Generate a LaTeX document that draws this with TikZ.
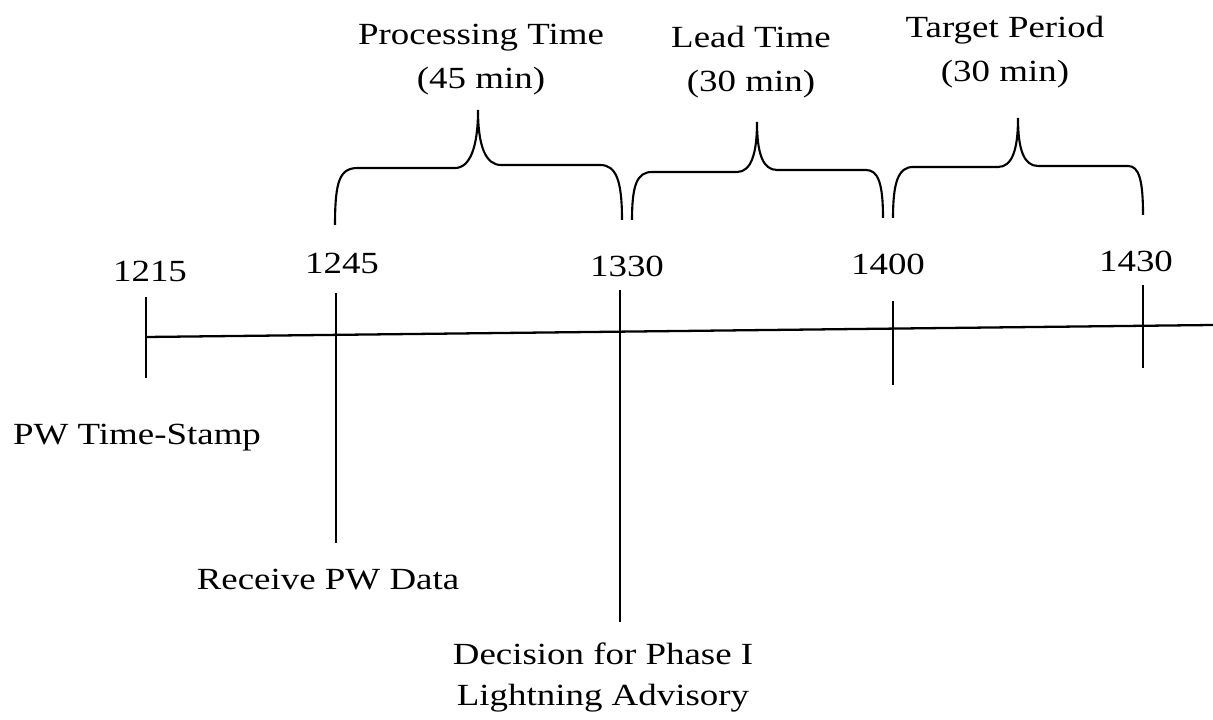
\documentclass[tikz,border=0pt]{standalone}
\usepackage{fontspec}
\setmainfont{Liberation Serif}[FakeStretch=1.2]
\usepackage{tikz}

\begin{document}
\begin{tikzpicture}[
                every node/.style={align=center, inner sep=0pt, font=\fontsize{17.5}{25.6}\selectfont},
                time label/.style={anchor=base},
                span label/.style={anchor=base},
                event label/.style={anchor=base},
                axis/.style={line width=1.3pt},
                tick line/.style={line width=1.3pt},
                brace/.style={line width=1.2pt}
            ]

            \useasboundingbox (0,0) rectangle (24.26,14.38);

            % Axis
            \coordinate (start) at (2.92,7.64);
            \coordinate (end) at (24.26,7.88);
            \draw[axis] (start) -- (end);

            % Ticks
            \draw[tick line] (2.92,8.44) -- (2.92,6.82);
            \draw[tick line] (6.72,8.52) -- (6.72,3.52);
            \draw[tick line] (12.40,8.58) -- (12.40,1.94);
            \draw[tick line] (17.86,8.36) -- (17.86,6.68);
            \draw[tick line] (22.86,8.68) -- (22.86,7.02);

            % Times
            \node[time label] (t1215) at (3.00,8.74) {1215};
            \node[time label] (t1245) at (6.84,8.90) {1245};
            \node[time label] (t1330) at (12.54,8.84) {1330};
            \node[time label] (t1400) at (17.76,8.88) {1400};
            \node[time label] (t1430) at (22.72,8.94) {1430};

            % Braces
            \draw[brace] (6.70,9.88) .. controls (6.70,10.78) and (6.80,11.02) .. (7.16,11.02)
                -- (9.10,11.02) .. controls (9.40,11.02) and (9.56,11.44) .. (9.56,12.18)
                .. controls (9.56,11.44) and (9.72,11.08) .. (10.02,11.08)
                -- (12.00,11.08) .. controls (12.32,11.08) and (12.44,10.78) .. (12.44,9.98);
            \draw[brace] (12.64,9.98) .. controls (12.64,10.68) and (12.74,10.94) .. (13.04,10.94)
                -- (14.74,10.94) .. controls (15.02,10.94) and (15.14,11.30) .. (15.14,11.94)
                .. controls (15.14,11.30) and (15.26,10.98) .. (15.54,10.98)
                -- (17.32,10.98) .. controls (17.56,10.98) and (17.66,10.72) .. (17.66,10.02);
            \draw[brace] (17.86,10.02) .. controls (17.86,10.72) and (17.96,11.04) .. (18.26,11.04)
                -- (19.96,11.04) .. controls (20.24,11.04) and (20.36,11.38) .. (20.36,12.02)
                .. controls (20.36,11.38) and (20.48,11.06) .. (20.76,11.06)
                -- (22.56,11.06) .. controls (22.78,11.06) and (22.86,10.78) .. (22.86,10.08);

            % Spans
            \node[span label] (proc) at (9.62,12.60) {Processing Time\\(45 min)};
            \node[span label] (lead) at (15.02,12.54) {Lead Time\\(30 min)};
            \node[span label] (target) at (20.10,12.74) {Target Period\\(30 min)};

            % Events
            \node[event label] (stamp) at (2.74,5.48) {PW Time-Stamp};
            \node[event label] (receive) at (6.56,2.58) {Receive PW Data};
            \node[event label, font=\fontsize{17.5}{22.8}\selectfont] (decision) at (12.06,0.28) {Decision for Phase I\\Lightning Advisory};

\end{tikzpicture}
\end{document}
